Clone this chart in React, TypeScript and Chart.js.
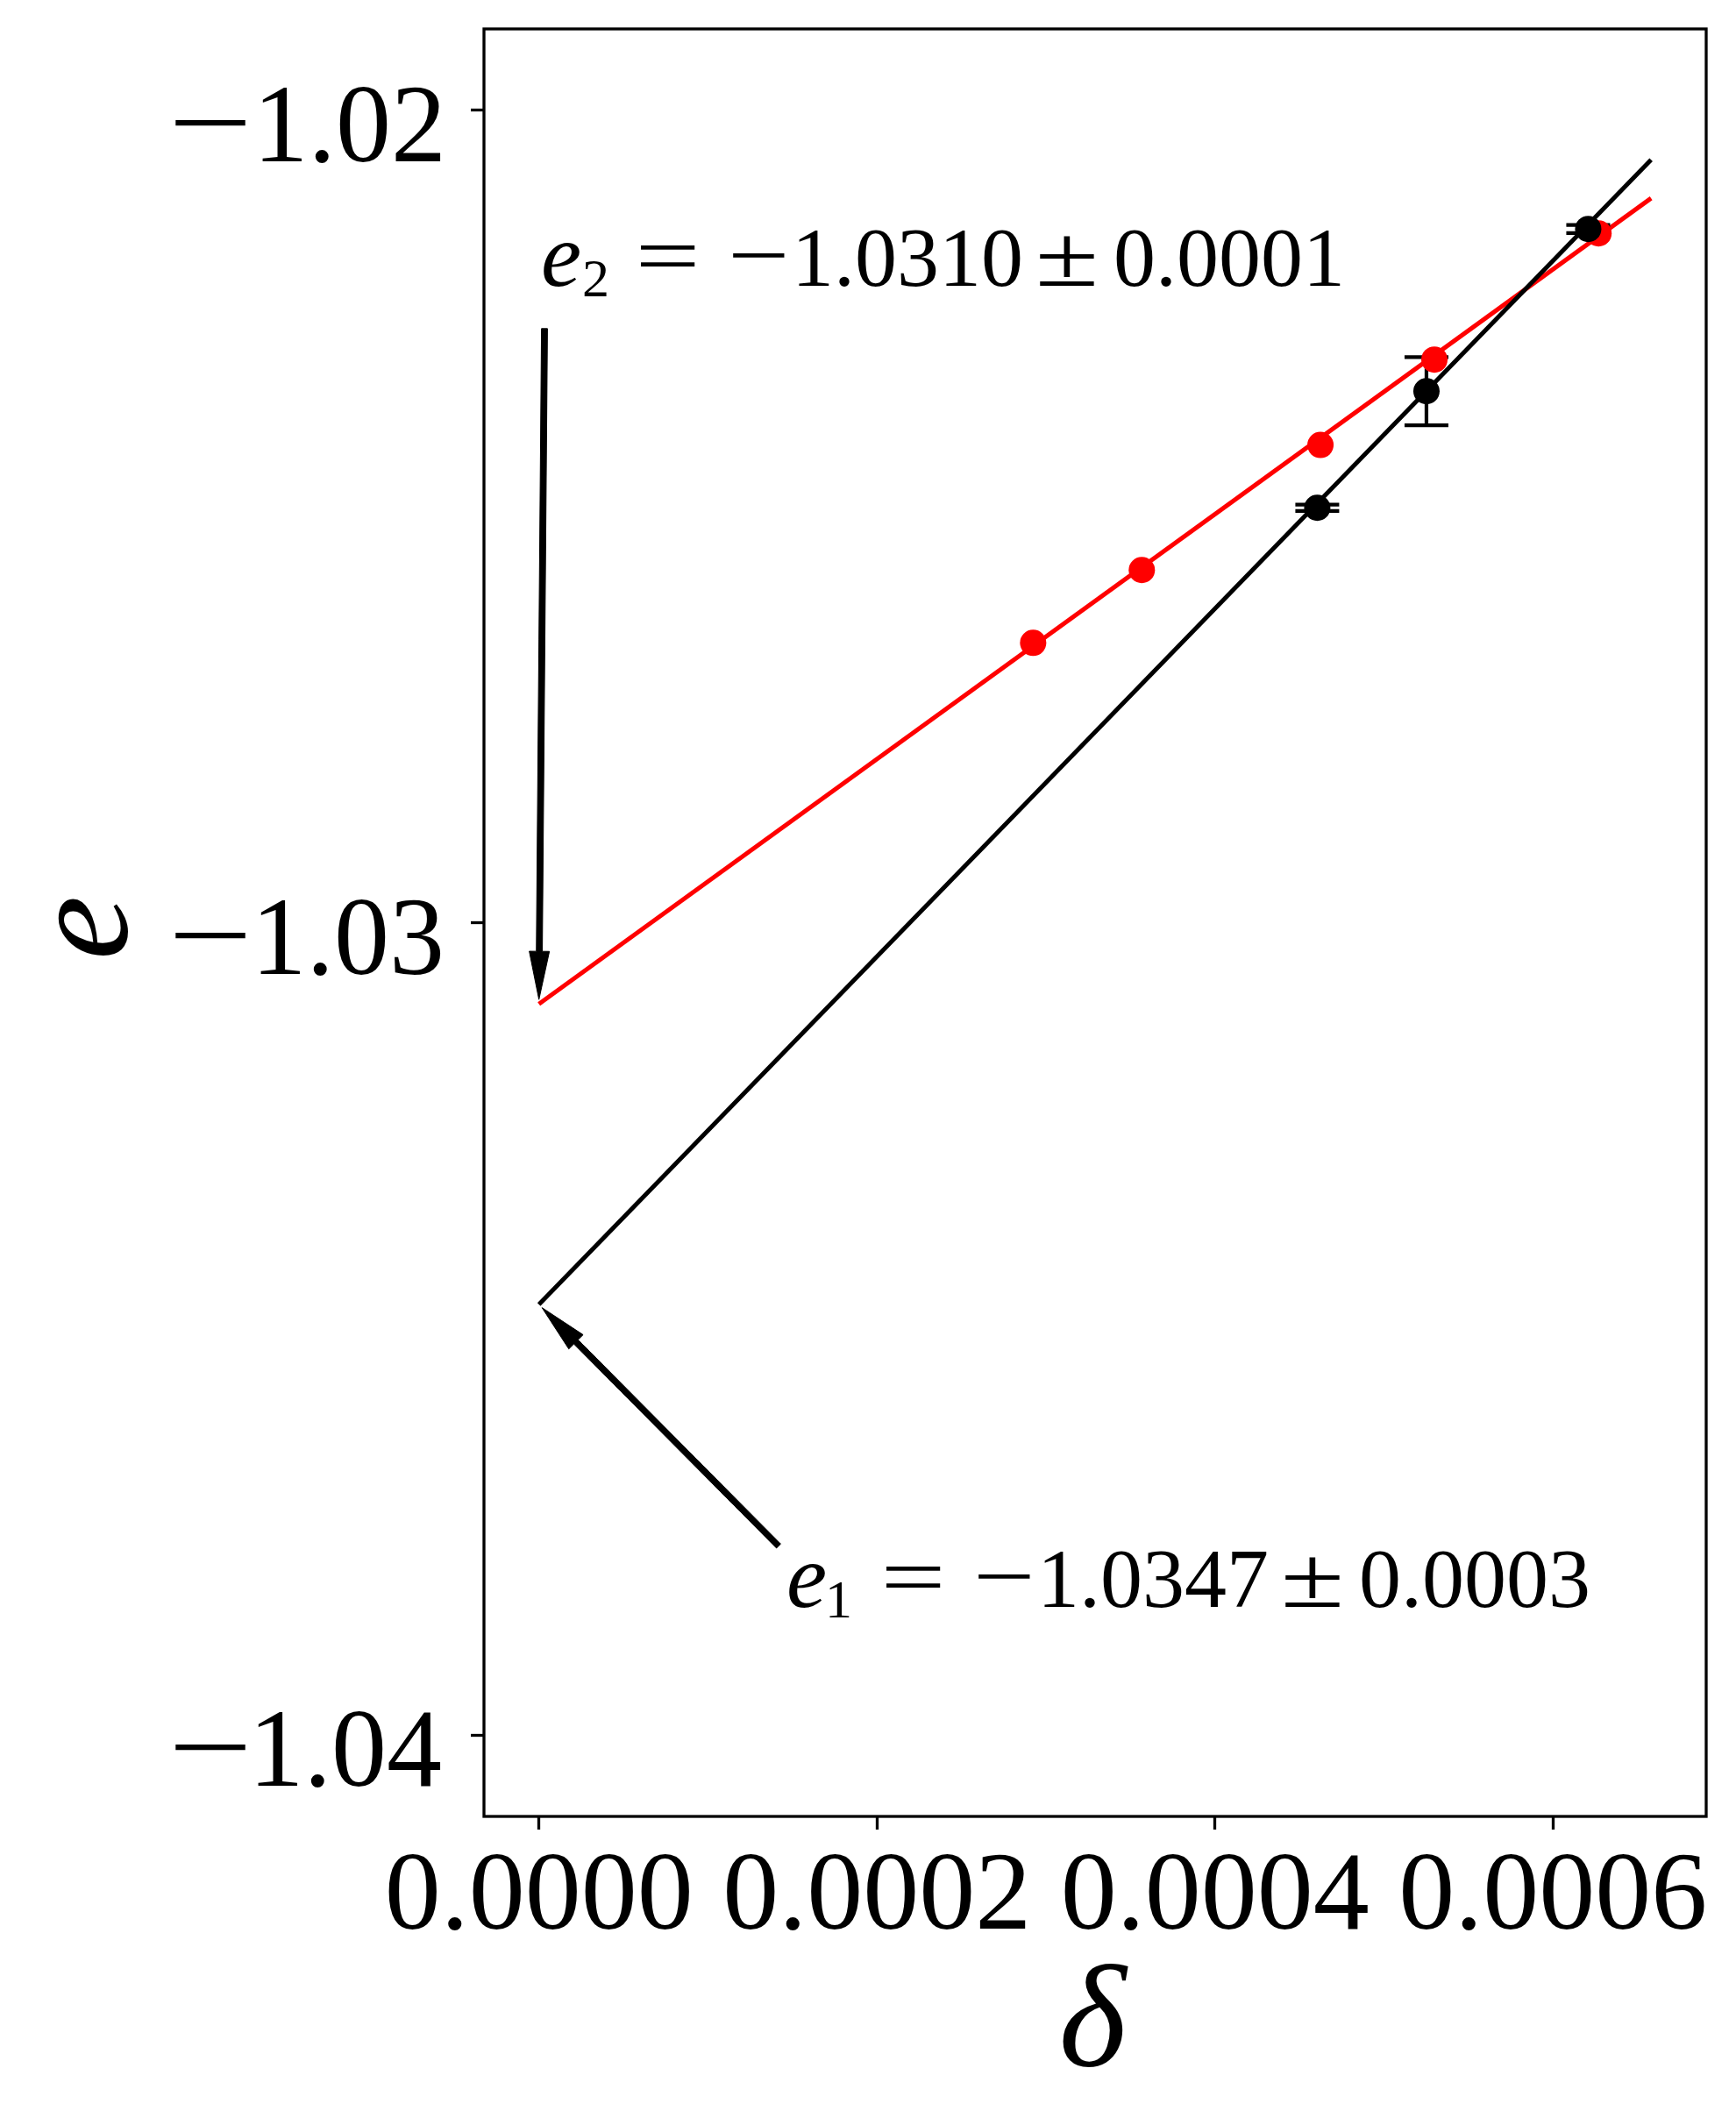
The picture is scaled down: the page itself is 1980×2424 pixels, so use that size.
import React, { useEffect, useRef } from 'react';
import { Chart, registerables } from 'chart.js';

Chart.register(...registerables);

// ---- data ----
const redDelta = [0.0002924, 0.0003567, 0.0004624, 0.0005298, 0.0006269];
const redE = [-1.026556, -1.02566, -1.024121, -1.02307, -1.021516];

const blackDelta = [0.0004605, 0.0005251, 0.0006208];
const blackE = [-1.024894, -1.023459, -1.021462];
const blackErr = [0.00004, 0.00042, 0.00005];

const fitDelta = [0, 0.000658];
const redFitE = [-1.031, -1.021084];
const blackFitE = [-1.0347, -1.02061];

const xTicks = [0, 0.0002, 0.0004, 0.0006];
const xTickLabels = ['0.0000', '0.0002', '0.0004', '0.0006'];
const yTicks = [-1.04, -1.03, -1.02];
const yTickLabels = ['1.04', '1.03', '1.02']; // drawn with a leading minus sign
const xRange = [-0.0000325, 0.0006906];
const yRange = [-1.041, -1.019];

const xLabel = '\u03b4';
const yLabel = 'e';

// annotations
const annSubs = ['2', '1'];
const annValues = ['1.0310', '1.0347'];
const annErrors = ['0.0001', '0.0003'];
const annTargetDelta = [0, 0];
const annTargetE = [-1.031, -1.0347];
const annTextDelta = [0.0000028, 0.000148];
const annTextE = [-1.022159, -1.038417];
const annTailDelta = [0.0000033, 0.0001418];
const annTailE = [-1.022688, -1.037672];

const SERIF = '"Liberation Serif", "Times New Roman", serif';

function pts(xs: number[], ys: number[]) {
  return xs.map((x, i) => ({ x, y: ys[i] }));
}

// draw text so that its ink starts at inkLeft (optionally stretched horizontally to inkWidth)
function drawInk(
  ctx: CanvasRenderingContext2D,
  text: string,
  font: string,
  inkLeft: number,
  baseline: number,
  inkWidth?: number
) {
  ctx.save();
  ctx.font = font;
  ctx.textAlign = 'left';
  ctx.textBaseline = 'alphabetic';
  const m = ctx.measureText(text);
  const w = m.actualBoundingBoxLeft + m.actualBoundingBoxRight;
  const sx = inkWidth && w > 0 ? inkWidth / w : 1;
  ctx.translate(inkLeft, baseline);
  ctx.scale(sx, 1);
  ctx.fillText(text, m.actualBoundingBoxLeft, 0);
  ctx.restore();
}

function drawInkRight(ctx: CanvasRenderingContext2D, text: string, font: string, inkRight: number, baseline: number) {
  ctx.save();
  ctx.font = font;
  ctx.textAlign = 'left';
  ctx.textBaseline = 'alphabetic';
  const m = ctx.measureText(text);
  ctx.fillText(text, inkRight - m.actualBoundingBoxRight, baseline);
  ctx.restore();
}

function drawArrow(ctx: CanvasRenderingContext2D, x0: number, y0: number, x1: number, y1: number) {
  const dx = x1 - x0;
  const dy = y1 - y0;
  const L = Math.hypot(dx, dy);
  const ux = dx / L;
  const uy = dy / L;
  const shrink = 5;
  const tx = x1 - ux * shrink;
  const ty = y1 - uy * shrink;
  const hl = 55;
  const hw = 11.5;
  const sw = 3.4;
  const bx = tx - ux * hl;
  const by = ty - uy * hl;
  const nx = -uy;
  const ny = ux;
  ctx.beginPath();
  ctx.moveTo(x0 + nx * sw, y0 + ny * sw);
  ctx.lineTo(bx + nx * sw, by + ny * sw);
  ctx.lineTo(bx + nx * hw, by + ny * hw);
  ctx.lineTo(tx, ty);
  ctx.lineTo(bx - nx * hw, by - ny * hw);
  ctx.lineTo(bx - nx * sw, by - ny * sw);
  ctx.lineTo(x0 - nx * sw, y0 - ny * sw);
  ctx.closePath();
  ctx.fillStyle = '#000';
  ctx.fill();
  ctx.lineWidth = 1;
  ctx.strokeStyle = '#000';
  ctx.lineJoin = 'round';
  ctx.stroke();
}

function drawEq(ctx: CanvasRenderingContext2D, x: number, y: number, sub: string, val: string, err: string) {
  ctx.fillStyle = '#000';
  drawInk(ctx, 'e', `italic 104px ${SERIF}`, x, y);
  drawInk(ctx, sub, `62px ${SERIF}`, x + 46, y + 12);
  drawInk(ctx, '=', `96px ${SERIF}`, x + 110, y - 2, 63);
  drawInk(ctx, '\u2212', `96px ${SERIF}`, x + 215, y - 3, 60);
  drawInk(ctx, val, `96px ${SERIF}`, x + 291, y);
  drawInk(ctx, '\u00b1', `100px ${SERIF}`, x + 566, y, 62);
  drawInk(ctx, err, `96px ${SERIF}`, x + 653, y);
}

export default function App() {
  const ref = useRef<HTMLCanvasElement>(null);

  useEffect(() => {
    const canvas = ref.current;
    if (!canvas) return;

    const errorBars = {
      id: 'errorBars',
      beforeDatasetDraw(chart: any, args: any) {
        if (args.index !== 2) return;
        const ctx = chart.ctx as CanvasRenderingContext2D;
        const xs = chart.scales.x;
        const ys = chart.scales.y;
        ctx.save();
        ctx.strokeStyle = '#000';
        ctx.lineWidth = 4.2;
        ctx.lineCap = 'butt';
        blackDelta.forEach((d, i) => {
          const px = xs.getPixelForValue(d);
          const top = ys.getPixelForValue(blackE[i] + blackErr[i]);
          const bot = ys.getPixelForValue(blackE[i] - blackErr[i]);
          ctx.beginPath();
          ctx.moveTo(px, top);
          ctx.lineTo(px, bot);
          ctx.moveTo(px - 25, top);
          ctx.lineTo(px + 25, top);
          ctx.moveTo(px - 25, bot);
          ctx.lineTo(px + 25, bot);
          ctx.stroke();
        });
        ctx.restore();
      },
    };

    const overlay = {
      id: 'overlay',
      afterDraw(chart: any) {
        const ctx = chart.ctx as CanvasRenderingContext2D;
        const xs = chart.scales.x;
        const ys = chart.scales.y;
        const a = chart.chartArea;
        ctx.save();
        // frame
        ctx.strokeStyle = '#000';
        ctx.lineWidth = 3.3;
        ctx.strokeRect(a.left, a.top, a.right - a.left, a.bottom - a.top);

        // y tick labels (long minus sign like the reference)
        ctx.fillStyle = '#000';
        yTicks.forEach((v, i) => {
          const py = ys.getPixelForValue(v);
          const base = py + 58;
          drawInkRight(ctx, yTickLabels[i], `126px ${SERIF}`, a.left - 49, base);
          drawInk(ctx, '\u2212', `126px ${SERIF}`, a.left - 352, base - 2, 80);
        });

        // annotations
        annSubs.forEach((s, i) => {
          const tx = xs.getPixelForValue(annTargetDelta[i]);
          const ty = ys.getPixelForValue(annTargetE[i]);
          const sx = xs.getPixelForValue(annTailDelta[i]);
          const sy = ys.getPixelForValue(annTailE[i]);
          drawArrow(ctx, sx, sy, tx, ty);
          const lx = xs.getPixelForValue(annTextDelta[i]);
          const ly = ys.getPixelForValue(annTextE[i]);
          drawEq(ctx, lx, ly, s, annValues[i], annErrors[i]);
        });

        // axis labels
        ctx.fillStyle = '#000';
        ctx.font = `italic 165px ${SERIF}`;
        ctx.textAlign = 'center';
        ctx.textBaseline = 'alphabetic';
        ctx.fillText(xLabel, (a.left + a.right) / 2 - 3, 2356);

        ctx.save();
        ctx.translate(106, (a.top + a.bottom) / 2 + 6);
        ctx.rotate(-Math.PI / 2);
        ctx.font = `italic 165px ${SERIF}`;
        ctx.textAlign = 'center';
        ctx.fillText(yLabel, 0, 38);
        ctx.restore();
        ctx.restore();
      },
    };

    const chart = new Chart(canvas, {
      type: 'scatter',
      data: {
        datasets: [
          {
            data: pts(fitDelta, redFitE),
            showLine: true,
            borderColor: '#ff0000',
            borderWidth: 5,
            pointRadius: 0,
            order: 5,
          },
          {
            data: pts(fitDelta, blackFitE),
            showLine: true,
            borderColor: '#000000',
            borderWidth: 5,
            pointRadius: 0,
            order: 4,
          },
          {
            data: pts(redDelta, redE),
            backgroundColor: '#ff0000',
            borderColor: '#ff0000',
            borderWidth: 0,
            pointRadius: 15,
            order: 2,
          },
          {
            data: pts(blackDelta, blackE),
            backgroundColor: '#000000',
            borderColor: '#000000',
            borderWidth: 0,
            pointRadius: 15,
            order: 1,
          },
        ],
      } as any,
      options: {
        animation: false,
        responsive: false,
        devicePixelRatio: 1,
        events: [],
        layout: { padding: { left: 0, right: 34, top: 33, bottom: 0 } },
        plugins: {
          legend: { display: false },
          tooltip: { enabled: false },
          title: { display: false },
        },
        scales: {
          x: {
            type: 'linear',
            min: xRange[0],
            max: xRange[1],
            afterFit: (s: any) => {
              s.height = 352;
              s.paddingLeft = 0;
              s.paddingRight = 0;
            },
            afterBuildTicks: (s: any) => {
              s.ticks = xTicks.map((v) => ({ value: v }));
            },
            border: { display: false },
            grid: {
              display: true,
              drawOnChartArea: false,
              drawTicks: true,
              tickLength: 15,
              tickWidth: 3.3,
              tickColor: '#000',
            },
            ticks: {
              autoSkip: false,
              maxRotation: 0,
              minRotation: 0,
              padding: 3,
              color: '#000',
              font: { family: SERIF, size: 128 },
              callback: (v: any) => {
                const i = xTicks.findIndex((t) => Math.abs(t - Number(v)) < 1e-9);
                return i >= 0 ? xTickLabels[i] : '';
              },
            },
          },
          y: {
            type: 'linear',
            min: yRange[0],
            max: yRange[1],
            afterFit: (s: any) => {
              s.width = 552;
              s.paddingTop = 0;
              s.paddingBottom = 0;
            },
            afterBuildTicks: (s: any) => {
              s.ticks = yTicks.map((v) => ({ value: v }));
            },
            border: { display: false },
            grid: {
              display: true,
              drawOnChartArea: false,
              drawTicks: true,
              tickLength: 15,
              tickWidth: 3.3,
              tickColor: '#000',
            },
            ticks: {
              display: false,
            },
          },
        },
      } as any,
      plugins: [errorBars, overlay],
    });

    return () => chart.destroy();
  }, []);

  return (
    <div
      style={{
        position: 'absolute',
        left: 0,
        top: 0,
        width: 1980,
        height: 2424,
        background: '#ffffff',
      }}
    >
      <canvas ref={ref} width={1980} height={2424} style={{ width: 1980, height: 2424, display: 'block' }} />
    </div>
  );
}
